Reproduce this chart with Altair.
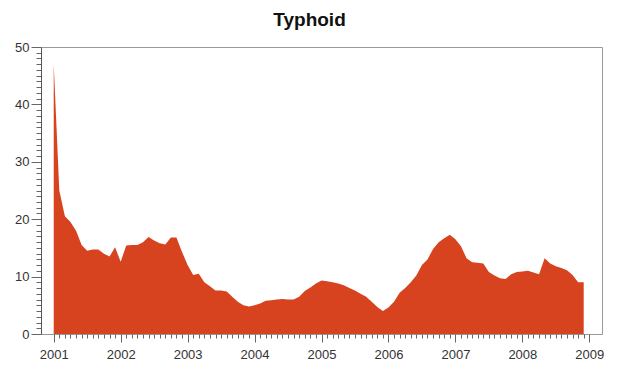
import altair as alt
import pandas as pd

years = [2001, 2002, 2003, 2004, 2005, 2006, 2007, 2008]
cases_2001 = [47.0, 25.0, 20.5, 19.5, 18.0, 15.5, 14.5, 14.7, 14.7, 14.0, 13.5, 15.1]
cases_2002 = [12.6, 15.4, 15.5, 15.5, 16.0, 16.9, 16.3, 15.8, 15.6, 16.8, 16.8, 14.3]
cases_2003 = [12.0, 10.3, 10.5, 9.0, 8.3, 7.6, 7.6, 7.4, 6.5, 5.6, 5.0, 4.8]
cases_2004 = [5.0, 5.3, 5.8, 5.9, 6.0, 6.1, 6.0, 6.0, 6.5, 7.5, 8.1, 8.8]
cases_2005 = [9.3, 9.2, 9.0, 8.8, 8.5, 8.0, 7.6, 7.0, 6.5, 5.6, 4.7, 4.0]
cases_2006 = [4.6, 5.6, 7.2, 8.0, 9.0, 10.2, 12.0, 13.0, 14.8, 16.0, 16.7, 17.3]
cases_2007 = [16.5, 15.3, 13.2, 12.5, 12.4, 12.3, 10.8, 10.2, 9.7, 9.6, 10.4, 10.8]
cases_2008 = [10.9, 11.0, 10.7, 10.4, 13.2, 12.3, 11.8, 11.5, 11.1, 10.3, 9.0, 9.0]

all_cases = [cases_2001, cases_2002, cases_2003, cases_2004,
             cases_2005, cases_2006, cases_2007, cases_2008]

rows = []
for yr, vals in zip(years, all_cases):
    for m, v in enumerate(vals):
        rows.append({"t": yr + m / 12.0, "cases": v})
df = pd.DataFrame(rows)

month_ticks = [2001 + k / 12.0 for k in range(0, 97)]
y_ticks = list(range(0, 51))

label_font = "Liberation Sans"

chart = alt.Chart(df).mark_area(color="#d8431f", interpolate="linear").encode(
    x=alt.X("t:Q",
            scale=alt.Scale(domain=[2000.81, 2009.19], nice=False, zero=False),
            axis=alt.Axis(values=month_ticks, title=None, grid=False,
                          labelExpr="abs(datum.value - round(datum.value)) < 0.001 ? format(datum.value, 'd') : ''",
                          tickSize={"expr": "abs(datum.value - round(datum.value)) < 0.001 ? 8 : 4"},
                          tickColor="#666", domain=False,
                          labelFont=label_font, labelFontSize=13, labelColor="#333",
                          labelPadding=6, labelFlush=False, labelOverlap=False)),
    y=alt.Y("cases:Q",
            scale=alt.Scale(domain=[0, 50], nice=False),
            axis=alt.Axis(values=y_ticks, title=None, grid=False,
                          labelExpr="datum.value % 10 == 0 ? datum.label : ''",
                          tickSize={"expr": "datum.value % 10 == 0 ? 10 : 5"},
                          tickColor="#666", domainColor="#555",
                          labelFont=label_font, labelFontSize=13, labelColor="#333",
                          labelPadding=2, labelOverlap=False)),
).properties(
    width=561,
    height=287,
    title=alt.TitleParams("Typhoid", fontSize=19, font=label_font, fontWeight="bold",
                          color="#111", offset=11, dx=-12),
    autosize=alt.AutoSizeParams(type="none"),
    padding={"left": 33, "top": 39, "right": 9, "bottom": 26},
).configure_view(stroke="#999", strokeWidth=1)

chart.save("out.html", embed_options={"renderer": "svg", "actions": False})
